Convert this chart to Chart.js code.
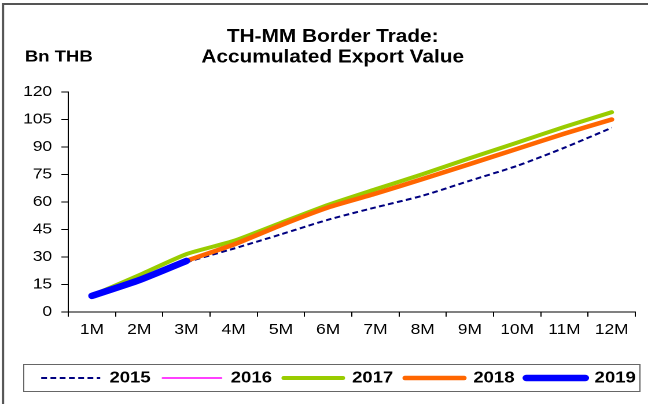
<!DOCTYPE html>
<html lang="en">
<head>
    <meta charset="UTF-8">
    <title>TH-MM Border Trade</title>
    <script src="https://cdn.jsdelivr.net/npm/chart.js"></script>
    <style>
        html, body { margin: 0; padding: 0; background: #fff; overflow: hidden; }
        /* chart is laid out a little narrower, then widened to fill the page */
        #wrap { width: 560px; height: 404px; transform: scaleX(1.1572); transform-origin: 0 0; }
    </style>
</head>
<body>
    <div id="wrap"><canvas id="myChart" width="560" height="404"></canvas></div>

    <script>
        const months = ['1M', '2M', '3M', '4M', '5M', '6M', '7M', '8M', '9M', '10M', '11M', '12M'];
        const years = ['2015', '2016', '2017', '2018', '2019'];

        // accumulated export value, Bn THB
        const v2015 = [8.7, 17.0, 27.0, 34.5, 42.3, 50.3, 57.0, 63.4, 71.6, 79.7, 89.6, 100.5];
        const v2016 = [8.8, 19.5, 31.0, 38.3, 48.2, 58.0, 66.5, 74.8, 83.4, 92.0, 100.4, 108.5];
        const v2017 = [8.9, 20.0, 31.5, 38.7, 48.6, 58.4, 66.9, 75.2, 83.9, 92.4, 101.0, 109.0];
        const v2018 = [8.8, 17.8, 27.8, 36.7, 47.3, 57.0, 64.5, 72.5, 80.7, 89.0, 97.3, 105.0];
        const v2019 = [8.7, 17.3, 27.8];

        const yTicks = { min: 0, max: 120, step: 15 };

        const FONT = "'Liberation Sans', Arial, sans-serif";

        // outer frame, unit label and the box round the legend
        const decorations = {
            id: 'decorations',
            afterLayout(chart) {
                // nudge the legend row and the title a little to the right
                chart.legend.left += 12;
                chart.legend.right += 12;
                chart.titleBlock.left += 7;
                chart.titleBlock.right += 7;
            },
            afterDraw(chart) {
                const ctx = chart.ctx;
                ctx.save();
                ctx.strokeStyle = '#555';
                ctx.lineWidth = 2;
                ctx.beginPath();
                ctx.moveTo(2.6, chart.height + 2);
                ctx.lineTo(2.6, 4);
                ctx.lineTo(chart.width + 2, 4);
                ctx.stroke();

                ctx.fillStyle = '#000';
                ctx.font = 'bold 16px ' + FONT;
                ctx.textBaseline = 'middle';
                ctx.textAlign = 'left';
                ctx.fillText('Bn THB', 21.5, 57);

                const lg = chart.legend;
                const mid = lg.legendHitBoxes.length ? lg.legendHitBoxes[0].top + lg.legendHitBoxes[0].height / 2 : 376;
                ctx.strokeStyle = '#666';
                ctx.lineWidth = 1;
                ctx.strokeRect(20.5, Math.round(mid - 13.5) + 0.5, 532.5, 27);
                ctx.restore();
            }
        };

        // legend samples take the dataset's own line width and dash
        function legendLabels(chart) {
            return Chart.defaults.plugins.legend.labels.generateLabels(chart).map(item => {
                const ds = chart.data.datasets[item.datasetIndex];
                item.lineWidth = ds.borderWidth;
                item.lineDash = ds.borderDash || [];
                item.lineCap = ds.borderCapStyle || 'butt';
                item.strokeStyle = ds.borderColor;
                return item;
            });
        }

        const ctx = document.getElementById('myChart').getContext('2d');
        const myChart = new Chart(ctx, {
            type: 'line',
            data: {
                labels: months,
                datasets: [
                    { label: years[0], data: v2015, borderColor: '#000080', borderWidth: 2, borderDash: [5, 3], order: 5 },
                    { label: years[1], data: v2016, borderColor: '#FF00FF', borderWidth: 1.5, borderCapStyle: 'round', order: 4 },
                    { label: years[2], data: v2017, borderColor: '#99CC00', borderWidth: 4, borderCapStyle: 'round', order: 3 },
                    { label: years[3], data: v2018, borderColor: '#FF6600', borderWidth: 4.5, borderCapStyle: 'round', order: 2 },
                    { label: years[4], data: v2019, borderColor: '#0000FF', borderWidth: 6.5, borderCapStyle: 'round', order: 1 }
                ]
            },
            options: {
                responsive: false,
                animation: false,
                devicePixelRatio: 2,
                elements: {
                    point: { radius: 0 },
                    line: { tension: 0.2, fill: false }
                },
                layout: { padding: { left: 12, right: 11, top: 0, bottom: 8 } },
                plugins: {
                    tooltip: { enabled: false },
                    title: {
                        display: true,
                        text: ['TH-MM Border Trade:', 'Accumulated Export Value'],
                        color: '#000',
                        font: { family: FONT, size: 18, weight: 'bold', lineHeight: 1.14 },
                        padding: { top: 27, bottom: 24 }
                    },
                    legend: {
                        position: 'bottom',
                        labels: {
                            usePointStyle: true,
                            pointStyle: 'line',
                            pointStyleWidth: 51,
                            color: '#000',
                            font: { family: FONT, size: 16, weight: 'bold' },
                            padding: 10.2,
                            generateLabels: legendLabels,
                            sort: (a, b) => a.datasetIndex - b.datasetIndex
                        }
                    }
                },
                scales: {
                    x: {
                        offset: true,
                        grid: { offset: true, drawOnChartArea: false, tickLength: 5, color: '#000' },
                        border: { color: '#000' },
                        ticks: { color: '#000', font: { family: FONT, size: 15 }, padding: 4, maxRotation: 0, autoSkip: false },
                        afterFit(scale) { scale.height += 17; }
                    },
                    y: {
                        min: yTicks.min,
                        max: yTicks.max,
                        grid: { drawOnChartArea: false, tickLength: 6, color: '#000' },
                        border: { color: '#000' },
                        ticks: { stepSize: yTicks.step, color: '#000', font: { family: FONT, size: 15 }, padding: 8 }
                    }
                }
            },
            plugins: [decorations]
        });
    </script>
</body>
</html>
